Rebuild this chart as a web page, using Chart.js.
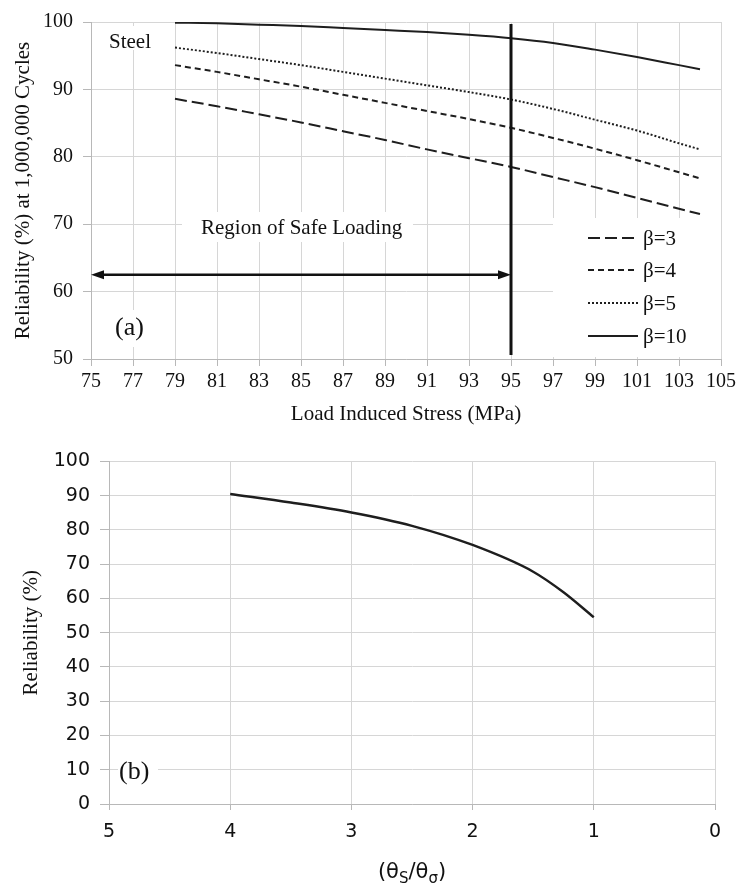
<!DOCTYPE html>
<html><head><meta charset="utf-8">
<script src="https://cdn.jsdelivr.net/npm/chart.js@4/dist/chart.umd.min.js"></script>
<style>
body{margin:0;background:#fff;width:740px;height:883px;overflow:hidden;position:relative}
.box{position:absolute;left:0;width:740px}
</style>
</head><body>
<div class="box" style="top:0;height:440px"><canvas id="c1" width="740" height="440"></canvas></div>
<div class="box" style="top:440px;height:443px"><canvas id="c2" width="740" height="443"></canvas></div>
<script>
// ---- Chart (a) data ----
const stress = [79, 81, 83, 85, 87, 89, 91, 93, 95, 97, 99, 101, 103, 104];
const beta3  = [88.6, 87.5, 86.3, 85.1, 83.8, 82.5, 81.1, 79.8, 78.5, 77.0, 75.5, 73.9, 72.3, 71.5];
const beta4  = [93.6, 92.6, 91.5, 90.4, 89.2, 88.0, 86.8, 85.6, 84.3, 82.8, 81.2, 79.5, 77.7, 76.8];
const beta5  = [96.2, 95.4, 94.5, 93.6, 92.6, 91.6, 90.6, 89.6, 88.5, 87.1, 85.5, 83.9, 82.0, 81.1];
const beta10 = [99.9, 99.8, 99.6, 99.4, 99.1, 98.8, 98.5, 98.1, 97.6, 96.9, 95.9, 94.8, 93.6, 93.0];
const seriesLabels = ['β=3', 'β=4', 'β=5', 'β=10'];
const stressTicks = [75, 77, 79, 81, 83, 85, 87, 89, 91, 93, 95, 97, 99, 101, 103, 105];
const safeLimit = 95;
const arrowLevel = 62.5;
const arrowFrom = 75;

// ---- Chart (b) data ----
const ratio = [4, 3.5, 3, 2.5, 2, 1.5, 1.25, 1];
const reliability = [90.5, 88.0, 85.1, 81.2, 75.6, 67.8, 61.8, 54.5];

const SERIF = "'Liberation Serif', 'Times New Roman', serif";
const SANS = "'DejaVu Sans', sans-serif";
const GRID = '#d6d6d6';
const AXIS = '#b8b8b8';
const INK = '#1e1e1e';

function pts(xs, ys){ return xs.map((x,i)=>({x:x, y:ys[i]})); }

const dashes = [[12,5],[6,4],[2,2],[]];
const seriesA = [beta3, beta4, beta5, beta10];

const annotA = {
  id:'annotA',
  beforeDatasetsDraw(chart){
    const c = chart.ctx;
    c.save();
    c.fillStyle = '#fff';
    c.fillRect(553, 218, 168, 139);   // legend box
    c.fillRect(182, 212, 231, 30);    // region label box
    c.fillRect(100, 26, 58, 24);      // steel label box
    c.fillRect(110, 310, 45, 37);     // (a) box
    c.restore();
  },
  afterDatasetsDraw(chart){
    const c = chart.ctx, xs = chart.scales.x, ys = chart.scales.y;
    c.save();
    const vx = xs.getPixelForValue(safeLimit);
    c.strokeStyle = '#111'; c.lineWidth = 3;
    c.beginPath(); c.moveTo(vx, ys.getPixelForValue(99.7)); c.lineTo(vx, ys.getPixelForValue(50.6)); c.stroke();
    const ay = ys.getPixelForValue(arrowLevel);
    const ax0 = xs.getPixelForValue(arrowFrom), ax1 = vx;
    c.lineWidth = 2.6;
    c.beginPath(); c.moveTo(ax0 + 8, ay); c.lineTo(ax1 - 8, ay); c.stroke();
    c.fillStyle = '#111';
    c.beginPath(); c.moveTo(ax0, ay); c.lineTo(ax0 + 13, ay - 4.5); c.lineTo(ax0 + 13, ay + 4.5); c.closePath(); c.fill();
    c.beginPath(); c.moveTo(ax1, ay); c.lineTo(ax1 - 13, ay - 4.5); c.lineTo(ax1 - 13, ay + 4.5); c.closePath(); c.fill();
    c.fillStyle = '#111';
    c.textBaseline = 'alphabetic'; c.textAlign = 'left';
    c.font = '21px ' + SERIF;
    c.fillText('Region of Safe Loading', 201, 234);
    c.font = '21px ' + SERIF;
    c.fillText('Steel', 109, 48);
    c.font = '26px ' + SERIF;
    c.fillText('(a)', 115, 335);
    const rowsY = [238, 270, 303, 336];
    chart.data.datasets.forEach((ds, i) => {
      const y = rowsY[i];
      c.strokeStyle = INK; c.lineWidth = 2;
      c.setLineDash(ds.borderDash || []);
      c.beginPath(); c.moveTo(588, y); c.lineTo(638, y); c.stroke();
      c.setLineDash([]);
      c.font = '21px ' + SERIF;
      c.textBaseline = 'middle';
      c.fillText(ds.label, 643, y + 1);
    });
    c.restore();
  }
};

new Chart(document.getElementById('c1'), {
  type: 'line',
  data: {
    datasets: seriesA.map((s, i) => ({
      label: seriesLabels[i],
      data: pts(stress, s),
      borderColor: INK,
      borderWidth: 2,
      borderDash: dashes[i],
      pointRadius: 0,
      tension: 0.3,
      cubicInterpolationMode: 'monotone',
      fill: false
    }))
  },
  options: {
    responsive: false,
    devicePixelRatio: 1,
    animation: false,
    layout: { padding: { top: 19, right: 17, left: 0, bottom: 0 } },
    plugins: { legend: { display: false }, tooltip: { enabled: false } },
    scales: {
      x: {
        type: 'linear', min: 75, max: 105,
        afterBuildTicks: s => { s.ticks = stressTicks.map(v => ({ value: v })); },
        afterFit: s => { s.height = 81; },
        grid: { color: GRID, tickColor: AXIS, tickLength: 7 },
        border: { color: AXIS },
        ticks: { color: '#111', font: { family: SERIF, size: 20 }, padding: 4, maxRotation: 0, autoSkip: false },
        title: { display: true, text: 'Load Induced Stress (MPa)', color: '#111', font: { family: SERIF, size: 21 }, padding: { top: 0, bottom: 13 } }
      },
      y: {
        min: 50, max: 100,
        afterFit: s => { s.width = 91; },
        grid: { color: GRID, tickColor: AXIS, tickLength: 8 },
        border: { color: AXIS },
        ticks: { stepSize: 10, color: '#111', font: { family: SERIF, size: 20 }, padding: 10 },
        title: { display: true, text: 'Reliability (%) at 1,000,000 Cycles', color: '#111', font: { family: SERIF, size: 21 }, padding: { top: 11, bottom: 0 } }
      }
    }
  },
  plugins: [annotA]
});

const annotB = {
  id:'annotB',
  beforeDatasetsDraw(chart){
    const c = chart.ctx;
    c.save(); c.fillStyle = '#fff';
    c.fillRect(118, 312, 40, 38);
    c.restore();
  },
  afterDatasetsDraw(chart){
    const c = chart.ctx;
    c.save();
    c.fillStyle = '#111';
    c.textBaseline = 'alphabetic'; c.textAlign = 'left';
    c.font = '26px ' + SERIF;
    c.fillText('(b)', 119, 339);
    const parts = [
      ['(θ', 21, 0], ['S', 15, 5], ['/θ', 21, 0], ['σ', 15, 5], [')', 21, 0]
    ];
    let total = 0;
    parts.forEach(p => { c.font = p[1] + 'px ' + SANS; total += c.measureText(p[0]).width; });
    let x = (chart.chartArea.left + chart.chartArea.right) / 2 - total / 2;
    const base = 438;
    parts.forEach(p => {
      c.font = p[1] + 'px ' + SANS;
      c.fillText(p[0], x, base + p[2]);
      x += c.measureText(p[0]).width;
    });
    c.restore();
  }
};

new Chart(document.getElementById('c2'), {
  type: 'line',
  data: {
    datasets: [{
      label: 'Reliability',
      data: pts(ratio, reliability),
      borderColor: INK,
      borderWidth: 2.4,
      pointRadius: 0,
      tension: 0.4,
      cubicInterpolationMode: 'monotone',
      fill: false
    }]
  },
  options: {
    responsive: false,
    devicePixelRatio: 1,
    animation: false,
    layout: { padding: { top: 21, right: 25, left: 0, bottom: 0 } },
    plugins: { legend: { display: false }, tooltip: { enabled: false } },
    scales: {
      x: {
        type: 'linear', min: 0, max: 5, reverse: true,
        afterFit: s => { s.height = 79; },
        grid: { color: GRID, tickColor: AXIS, tickLength: 6 },
        border: { color: AXIS },
        ticks: { stepSize: 1, color: '#111', font: { family: SANS, size: 19 }, padding: 11, maxRotation: 0 }
      },
      y: {
        min: 0, max: 100,
        afterFit: s => { s.width = 109; },
        grid: { color: GRID, tickColor: AXIS, tickLength: 9 },
        border: { color: AXIS },
        ticks: { stepSize: 10, color: '#111', font: { family: SANS, size: 19 }, padding: 10 },
        title: { display: true, text: 'Reliability (%)', color: '#111', font: { family: SERIF, size: 21 }, padding: { top: 19, bottom: 0 } }
      }
    }
  },
  plugins: [annotB]
});
</script>
</body></html>
